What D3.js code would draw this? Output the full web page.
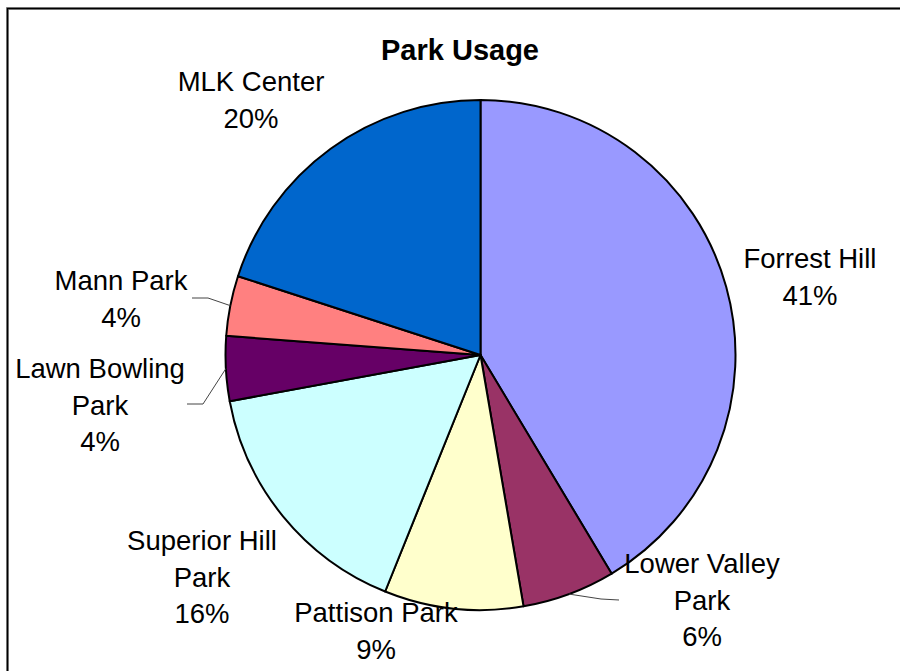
<!DOCTYPE html>
<html>
<head>
<meta charset="utf-8">
<script src="https://cdn.jsdelivr.net/npm/d3@7/dist/d3.min.js"></script>
<style>
  html, body { margin: 0; padding: 0; background: #fff; }
  svg { display: block; }
  text { font-family: "Liberation Sans", Arial, sans-serif; fill: #000; }
</style>
</head>
<body>
<svg id="chart" width="900" height="671"></svg>
<script>
// Park usage share, listed clockwise from 12 o'clock
const parks = ["Forrest Hill", "Lower Valley Park", "Pattison Park", "Superior Hill Park",
               "Lawn Bowling Park", "Mann Park", "MLK Center"];
const usage = [41.4, 5.9, 8.8, 16.0, 4.1, 3.8, 20.0];
const sliceColors = ["#9999FF", "#993366", "#FFFFCC", "#CCFFFF", "#660066", "#FF8080", "#0066CC"];
// How each park name wraps onto lines in its label
const labelLines = [["Forrest Hill"], ["Lower Valley", "Park"], ["Pattison Park"],
                    ["Superior Hill", "Park"], ["Lawn Bowling", "Park"], ["Mann Park"], ["MLK Center"]];

const W = 900, H = 671;
const cx = 480.5, cy = 355, R = 255;
const lineGap = 36.5;

// Label placement: centre x, first baseline y, and the leader-line elbow/end (if any)
const labelLayout = [
  { x: 810, y: 268 },
  { x: 702, y: 573, leader: [[601, 599], [619, 600]] },
  { x: 376, y: 622 },
  { x: 202, y: 550 },
  { x: 100, y: 378, leader: [[203, 404], [187, 404]] },
  { x: 121, y: 290, leader: [[208, 298], [192, 298]] },
  { x: 251, y: 91 }
];

const svg = d3.select("#chart");

// Chart area frame (extends past the visible page on the right and bottom)
svg.append("path")
  .attr("d", `M7.5,${H + 10}V8.5H${W + 10}`)
  .attr("fill", "none").attr("stroke", "#999").attr("stroke-width", 3);
svg.append("path")
  .attr("d", `M7.5,${H + 10}V8.5H${W + 10}`)
  .attr("fill", "none").attr("stroke", "#000").attr("stroke-width", 1.5);

// Title
svg.append("text")
  .attr("x", 460).attr("y", 60)
  .attr("text-anchor", "middle")
  .style("font-size", "29px").style("font-weight", "bold")
  .text("Park Usage");

const data = parks.map((p, i) => ({ park: p, value: usage[i], color: sliceColors[i], lines: labelLines[i], layout: labelLayout[i] }));
const total = d3.sum(usage);
const pct = d3.format(".0%");

const pie = d3.pie().value(d => d.value).sort(null).startAngle(0).endAngle(2 * Math.PI);
const arc = d3.arc().innerRadius(0).outerRadius(R);
const arcs = pie(data);

const g = svg.append("g").attr("transform", `translate(${cx},${cy})`);

g.selectAll("path.slice")
  .data(arcs)
  .join("path")
  .attr("class", "slice")
  .attr("d", arc)
  .attr("fill", d => d.data.color)
  .attr("stroke", "#000")
  .attr("stroke-width", 2)
  .attr("stroke-linejoin", "round");

// Leader lines from the slice rim to the label
arcs.forEach(a => {
  const L = a.data.layout;
  if (!L.leader) return;
  const mid = (a.startAngle + a.endAngle) / 2;
  const px = cx + R * Math.sin(mid), py = cy - R * Math.cos(mid);
  const pts = [[px, py], ...L.leader];
  svg.append("path")
    .attr("d", d3.line()(pts))
    .attr("fill", "none")
    .attr("stroke", "#444")
    .attr("stroke-width", 1);
});

// Category name and percentage labels
arcs.forEach(a => {
  const L = a.data.layout;
  const lines = [...a.data.lines, pct(a.data.value / total)];
  const t = svg.append("text")
    .attr("text-anchor", "middle")
    .style("font-size", "27.5px");
  lines.forEach((s, i) => {
    t.append("tspan").attr("x", L.x).attr("y", L.y + i * lineGap).text(s);
  });
});
</script>
</body>
</html>
